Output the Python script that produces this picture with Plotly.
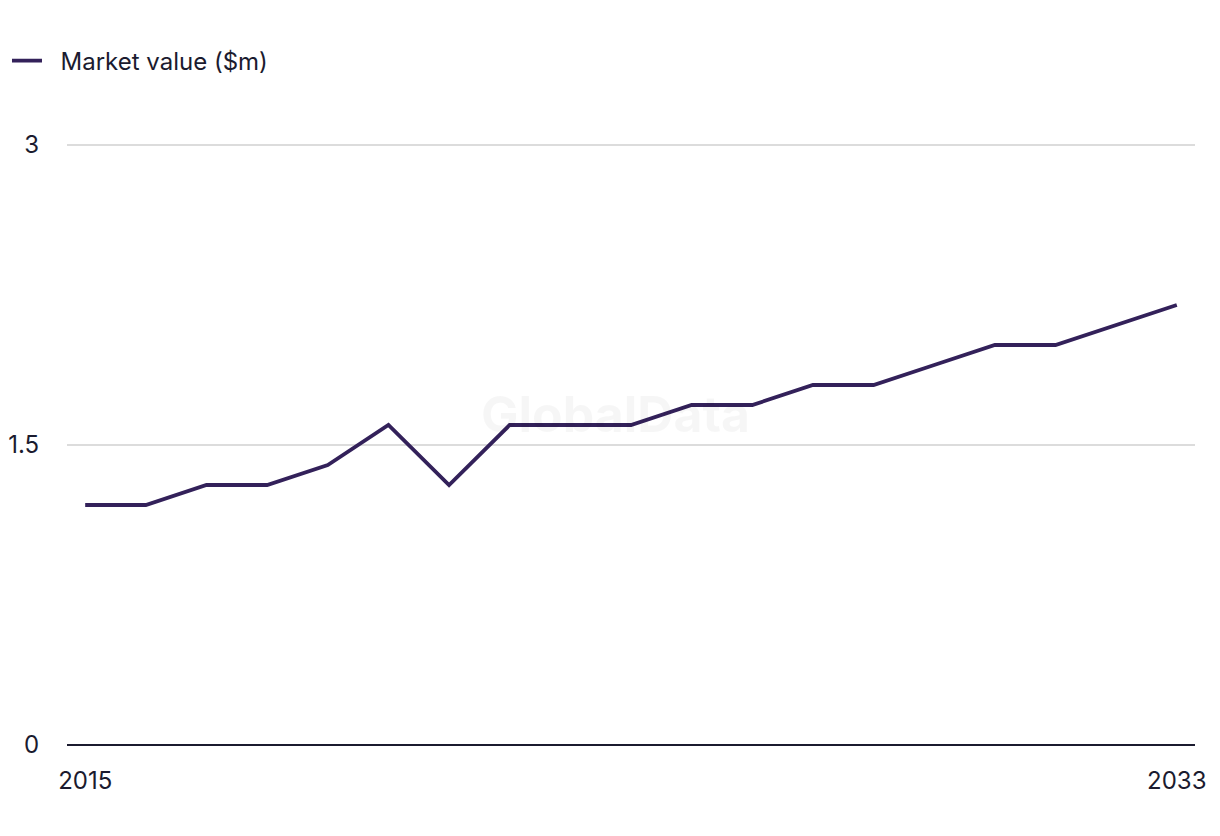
import plotly.graph_objects as go

years = list(range(2015, 2034))
market_value = [1.2, 1.2, 1.3, 1.3, 1.4, 1.6, 1.3, 1.6, 1.6, 1.6, 1.7, 1.7, 1.8, 1.8, 1.9, 2.0, 2.0, 2.1, 2.2]
y_ticks = [0, 1.5, 3]
y_tick_labels = ["0", "1.5", "3"]
x_ticks = [2015, 2033]
x_tick_labels = ["2015", "2033"]

text_color = "#1b1b2f"
line_color = "#33215a"

fig = go.Figure()
fig.add_trace(go.Scatter(
    x=years, y=market_value, mode="lines", name="\u00a0\u00a0Market value ($m)",
    line=dict(color=line_color, width=3.8),
))

fig.add_annotation(
    text="<b>GlobalData</b>", x=0.486, y=0.548, xref="paper", yref="paper",
    showarrow=False, font=dict(size=50, color="rgba(0,0,0,0.035)", family="Inter"),
)

fig.update_layout(
    width=1220, height=836,
    margin=dict(l=67, r=25, t=141, b=91, autoexpand=False),
    paper_bgcolor="white", plot_bgcolor="white",
    font=dict(family="Inter", size=24, color=text_color),
    showlegend=True,
    legend=dict(
        x=-0.0532, y=1.1325, xanchor="left", yanchor="middle",
        orientation="h", font=dict(size=24, color=text_color),
        itemwidth=30,
    ),
    xaxis=dict(
        range=[2014.7, 2033.3], tickvals=x_ticks, ticktext=x_tick_labels,
        showgrid=False, zeroline=False, showline=False,
        ticks="outside", ticklen=14, tickcolor="rgba(0,0,0,0)",
        tickfont=dict(size=24, color=text_color), automargin=False,
    ),
    yaxis=dict(
        range=[0, 3.02], tickvals=y_ticks, ticktext=y_tick_labels,
        showgrid=True, gridcolor="#dcdcdc", gridwidth=1.5,
        zeroline=True, zerolinecolor="#1b1b2f", zerolinewidth=2,
        showline=False,
        ticks="outside", ticklen=22, tickcolor="rgba(0,0,0,0)",
        tickfont=dict(size=24, color=text_color), automargin=False,
    ),
)

fig.write_html("out.html")
